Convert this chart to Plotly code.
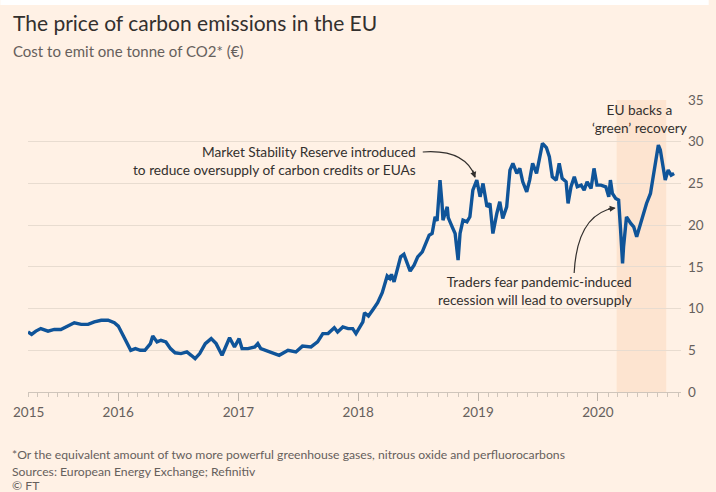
import plotly.graph_objects as go

# ---- data ----
dates = [
    "2015-04-01", "2015-04-12", "2015-04-25", "2015-05-10", "2015-06-01", "2015-06-20", "2015-07-10",
    "2015-08-01", "2015-08-20", "2015-09-10", "2015-10-01", "2015-10-20", "2015-11-10", "2015-12-01",
    "2015-12-20", "2016-01-01", "2016-01-10", "2016-01-25", "2016-02-08", "2016-02-22", "2016-03-08",
    "2016-03-22", "2016-04-08", "2016-04-15", "2016-04-28", "2016-05-10", "2016-05-25", "2016-06-08",
    "2016-06-22", "2016-07-10", "2016-07-28", "2016-08-10", "2016-08-22", "2016-09-05", "2016-09-22",
    "2016-10-10", "2016-10-25", "2016-11-12", "2016-11-25", "2016-12-05", "2016-12-20", "2017-01-03",
    "2017-01-12", "2017-01-30", "2017-02-20", "2017-03-01", "2017-03-10", "2017-04-10", "2017-05-05",
    "2017-06-01", "2017-06-25", "2017-07-15", "2017-08-10", "2017-08-30", "2017-09-15", "2017-10-01",
    "2017-10-20", "2017-10-30", "2017-11-15", "2017-12-01", "2017-12-15", "2017-12-25", "2018-01-05",
    "2018-01-15", "2018-01-20", "2018-02-01", "2018-02-15", "2018-03-01", "2018-03-15", "2018-03-22",
    "2018-03-30", "2018-04-07", "2018-04-12", "2018-04-20", "2018-04-30", "2018-05-10", "2018-05-20",
    "2018-05-28", "2018-06-08", "2018-06-20", "2018-07-01", "2018-07-15", "2018-07-25", "2018-08-05",
    "2018-08-14", "2018-08-23", "2018-08-29", "2018-09-07", "2018-09-13", "2018-09-16", "2018-09-29",
    "2018-10-02", "2018-10-14", "2018-10-23", "2018-11-01", "2018-11-07", "2018-11-16", "2018-11-28",
    "2018-12-07", "2018-12-16", "2018-12-28", "2019-01-07", "2019-01-16", "2019-01-28", "2019-02-06",
    "2019-02-15", "2019-02-27", "2019-03-08", "2019-03-17", "2019-03-29", "2019-04-08", "2019-04-17",
    "2019-04-29", "2019-05-08", "2019-05-17", "2019-05-29", "2019-06-07", "2019-06-16", "2019-06-28",
    "2019-07-07", "2019-07-16", "2019-07-28", "2019-08-06", "2019-08-15", "2019-08-27", "2019-09-05",
    "2019-09-14", "2019-09-26", "2019-10-02", "2019-10-11", "2019-10-21", "2019-10-30", "2019-11-11",
    "2019-11-20", "2019-11-29", "2019-12-11", "2019-12-20", "2019-12-29", "2020-01-10", "2020-01-25",
    "2020-02-03", "2020-02-08", "2020-02-14", "2020-02-24", "2020-03-04", "2020-03-10", "2020-03-16",
    "2020-03-19", "2020-03-28", "2020-04-10", "2020-04-19", "2020-04-28", "2020-05-10", "2020-05-19",
    "2020-05-28", "2020-06-09", "2020-06-18", "2020-06-27", "2020-07-03", "2020-07-09", "2020-07-18",
    "2020-07-24", "2020-08-02", "2020-08-11", "2020-08-20",
]
prices = [
    7.2, 6.9, 7.3, 7.6, 7.3, 7.5, 7.5,
    7.9, 8.3, 8.1, 8.1, 8.4, 8.6, 8.6,
    8.3, 7.9, 7.2, 6.0, 5.0, 5.2, 5.0,
    5.0, 5.8, 6.7, 6.0, 6.2, 6.0, 5.2,
    4.7, 4.6, 4.8, 4.4, 4.0, 4.6, 5.8,
    6.4, 5.8, 4.4, 5.6, 6.5, 5.4, 6.4,
    5.2, 5.2, 5.4, 5.8, 5.2, 4.8, 4.4,
    5.0, 4.8, 5.5, 5.4, 6.0, 7.0, 7.0,
    7.7, 7.2, 7.8, 7.6, 7.6, 7.0, 7.8,
    8.4, 9.5, 9.1, 9.9, 10.7, 11.9, 12.9,
    13.9, 13.6, 14.1, 13.2, 14.7, 16.2, 16.5,
    15.6, 14.5, 15.2, 16.2, 16.8, 17.8, 18.8,
    19.0, 21.0, 20.5, 25.4, 22.6, 20.6, 22.2,
    20.9, 19.8, 19.0, 15.8, 19.0, 20.6, 20.4,
    21.0, 24.2, 25.4, 23.4, 25.0, 22.2, 22.6,
    19.0, 21.4, 22.8, 20.8, 22.2, 26.6, 27.4,
    26.2, 26.8, 25.2, 24.0, 25.4, 27.4, 26.2,
    28.2, 29.8, 29.3, 28.2, 25.8, 25.4, 27.4,
    25.6, 25.2, 22.6, 24.6, 25.8, 24.6, 24.8,
    24.2, 25.2, 24.4, 26.8, 24.8, 24.8, 24.6,
    23.4, 25.4, 23.8, 23.2, 23.0, 19.4, 15.4,
    17.4, 21.0, 20.2, 19.8, 18.6, 20.2, 21.6,
    22.6, 23.8, 25.8, 27.8, 29.6, 29.0, 27.0,
    25.4, 26.6, 26.0, 26.2,
]
year_tickvals = ["2016-01-01", "2017-01-01", "2018-01-01", "2019-01-01", "2020-01-01"]
year_ticktext = ["2016", "2017", "2018", "2019", "2020"]
first_label = ("2015-04-01", "2015")
shade_period = ("2020-02-27", "2020-07-27")
x_range = ["2015-04-01", "2020-09-10"]
y_range = [0, 35]

BG = "#FFF1E5"
BLUE = "#0F5499"
DARK = "#33302E"
GREY = "#66605C"
GRID = "#E8DCD0"
FONT = "Lato"

W, H = 716, 492
L, R, T, B = 28, 28, 100, 100
PW, PH = W - L - R, H - T - B


def px(x):
    return (x - L) / PW


def py(y):
    return (H - B - y) / PH


fig = go.Figure()
fig.add_trace(go.Scatter(x=dates, y=prices, mode="lines",
                         line=dict(color=BLUE, width=3.4), hoverinfo="skip"))

shapes = [
    dict(type="rect", xref="x", yref="paper", x0=shade_period[0], x1=shade_period[1],
         y0=0, y1=1, fillcolor="#FDE4D0", line=dict(width=0), layer="below"),
    dict(type="path", xref="paper", yref="paper",
         path=f"M {px(427)},{py(152)} Q {px(470)},{py(149)} {px(480)},{py(177)}",
         line=dict(color=DARK, width=1.2)),
    dict(type="path", xref="paper", yref="paper",
         path=f"M {px(580)},{py(273)} C {px(582)},{py(235)} {px(595)},{py(212)} {px(621)},{py(208)}",
         line=dict(color=DARK, width=1.2)),
    dict(type="rect", xref="paper", yref="paper", x0=px(0), x1=px(W), y0=py(5), y1=py(0),
         fillcolor="white", line=dict(width=0)),
]

ann = []
# arrowheads
ann.append(dict(xref="paper", yref="paper", x=px(480), y=py(178), ax=-3, ay=-9, text="",
                showarrow=True, arrowhead=2, arrowsize=1, arrowwidth=1.2, arrowcolor=DARK))
ann.append(dict(xref="paper", yref="paper", x=px(622), y=py(208), ax=-9, ay=1, text="",
                showarrow=True, arrowhead=2, arrowsize=1, arrowwidth=1.2, arrowcolor=DARK))
# notes
NOTE = 13.7
ann.append(dict(xref="paper", yref="paper", x=px(422), y=py(160), xanchor="right", yanchor="middle",
                align="right", showarrow=False,
                text="Market Stability Reserve introduced<br>to reduce oversupply of carbon credits or EUAs",
                font=dict(family=FONT, size=NOTE, color=DARK)))
ann.append(dict(xref="paper", yref="paper", x=px(640), y=py(290), xanchor="right", yanchor="middle",
                align="right", showarrow=False,
                text="Traders fear pandemic-induced<br>recession will lead to oversupply",
                font=dict(family=FONT, size=NOTE, color=DARK)))
ann.append(dict(xref="paper", yref="paper", x=px(646), y=py(118), xanchor="center", yanchor="middle",
                align="center", showarrow=False,
                text="EU backs a<br>\u2018green\u2019 recovery",
                font=dict(family=FONT, size=NOTE, color=DARK)))
# first year label
ann.append(dict(xref="x", yref="paper", x=first_label[0], y=0, yshift=-20, xanchor="center",
                yanchor="middle", showarrow=False, text=first_label[1],
                font=dict(family=FONT, size=13.5, color=GREY)))
# title / subtitle
ann.append(dict(xref="paper", yref="paper", x=px(11), y=py(22), xanchor="left", yanchor="middle",
                showarrow=False, text="The price of carbon emissions in the EU",
                font=dict(family=FONT, size=21, color=DARK)))
ann.append(dict(xref="paper", yref="paper", x=px(11), y=py(51), xanchor="left", yanchor="middle",
                showarrow=False, text="Cost to emit one tonne of CO2* (\u20ac)",
                font=dict(family=FONT, size=15, color=GREY)))
# footnotes
for yy, txt in [(454, "*Or the equivalent amount of two more powerful greenhouse gases, nitrous oxide and perfluorocarbons"),
                (471, "Sources: European Energy Exchange; Refinitiv"),
                (485, "\u00a9 FT")]:
    ann.append(dict(xref="paper", yref="paper", x=px(10), y=py(yy), xanchor="left", yanchor="middle",
                    showarrow=False, text=txt, font=dict(family=FONT, size=12.2, color=GREY)))

fig.update_layout(
    width=W, height=H, margin=dict(l=L, r=R, t=T, b=B),
    paper_bgcolor=BG, plot_bgcolor=BG, showlegend=False,
    shapes=shapes, annotations=ann,
    font=dict(family=FONT, size=13, color=GREY),
    xaxis=dict(type="date", range=x_range, tickvals=year_tickvals, ticktext=year_ticktext,
               showgrid=False, zeroline=False, showline=True, linecolor="#CFC5BB", linewidth=1,
               ticks="outside", ticklen=8, tickcolor="#BFB5AB", tickwidth=1,
               minor=dict(dtick="M1", tick0="2015-04-01", ticks="outside", ticklen=4,
                          tickcolor="#CFC5BB", showgrid=False),
               tickfont=dict(family=FONT, size=13.5, color=GREY), fixedrange=True),
    yaxis=dict(range=y_range, dtick=5, side="right", showgrid=True, gridcolor=GRID, gridwidth=1,
               zeroline=False, showline=False, ticks="", ticklabelstandoff=6,
               tickfont=dict(family=FONT, size=13.5, color=GREY), fixedrange=True),
)

fig.write_html("out.html")
